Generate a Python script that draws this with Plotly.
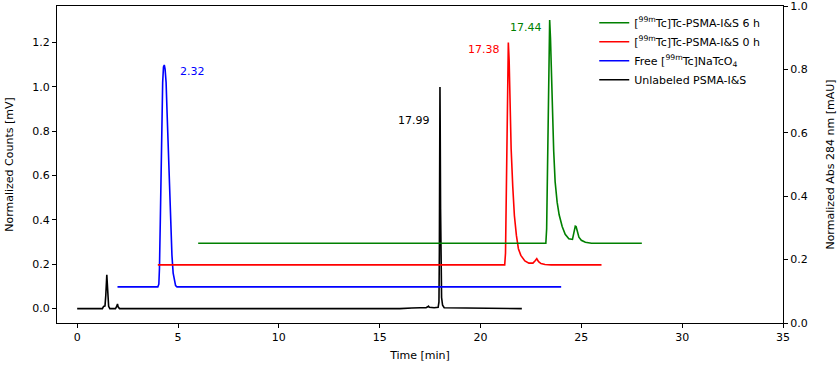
import plotly.graph_objects as go

# ---- data (time in min, normalized counts, offset traces) ----
black_t = [0.0, 1.25, 1.31, 1.38, 1.42, 1.45, 1.47, 1.49, 1.52, 1.56, 1.62, 1.9, 1.97, 2.0, 2.03, 2.1,
           16.0, 16.3, 16.6, 17.0, 17.3, 17.38, 17.42, 17.46, 17.7, 17.9, 17.94, 17.96, 17.98, 17.99,
           18.0, 18.02, 18.04, 18.07, 18.12, 18.2, 22.05]
black_y = [0.0, 0.0, 0.01, 0.012, 0.06, 0.13, 0.153, 0.12, 0.04, 0.01, 0.0, 0.0, 0.012, 0.021, 0.008, 0.0,
           0.0, 0.003, 0.003, 0.004, 0.004, 0.008, 0.011, 0.006, 0.004, 0.006, 0.03, 0.25, 0.8, 1.0,
           0.85, 0.45, 0.16, 0.05, 0.015, 0.004, 0.0]

blue_t = [2.0, 4.0, 4.05, 4.08, 4.12, 4.16, 4.2, 4.24, 4.28, 4.32, 4.36, 4.41, 4.46, 4.52, 4.58, 4.64,
          4.7, 4.76, 4.82, 4.88, 4.95, 24.0]
blue_y = [0.098, 0.098, 0.11, 0.18, 0.38, 0.62, 0.86, 1.02, 1.09, 1.099, 1.08, 1.02, 0.88, 0.7, 0.52, 0.36,
          0.24, 0.16, 0.12, 0.104, 0.098, 0.098]

red_t = [4.0, 21.2, 21.24, 21.28, 21.32, 21.35, 21.38, 21.42, 21.47, 21.52, 21.6, 21.68, 21.78, 21.88,
         22.0, 22.2, 22.4, 22.6, 22.7, 22.79, 22.88, 23.0, 23.2, 23.5, 26.0]
red_y = [0.197, 0.197, 0.25, 0.55, 0.9, 1.13, 1.2, 1.12, 0.92, 0.72, 0.55, 0.42, 0.33, 0.27,
         0.24, 0.215, 0.205, 0.205, 0.215, 0.225, 0.212, 0.203, 0.199, 0.197, 0.197]

green_t = [6.0, 23.24, 23.28, 23.32, 23.36, 23.4, 23.43, 23.47, 23.52, 23.57, 23.63, 23.7, 23.8, 23.9,
           24.05, 24.2, 24.38, 24.56, 24.64, 24.7, 24.74, 24.8, 24.88, 25.0, 25.2, 25.5, 28.0]
green_y = [0.295, 0.295, 0.36, 0.65, 0.98, 1.22, 1.302, 1.22, 1.05, 0.874, 0.71, 0.573, 0.48, 0.423,
           0.37, 0.335, 0.315, 0.312, 0.34, 0.372, 0.37, 0.345, 0.322, 0.308, 0.299, 0.295, 0.295]

names = ["Unlabeled PSMA-I&amp;S",
         "Free [<sup>99m</sup>Tc]NaTcO<sub>4</sub>",
         "[<sup>99m</sup>Tc]Tc-PSMA-I&amp;S 0 h",
         "[<sup>99m</sup>Tc]Tc-PSMA-I&amp;S 6 h"]
colors = ["#000000", "#0000ff", "#ff0000", "#008000"]

peak_labels = ["17.99", "2.32", "17.38", "17.44"]
label_x = [17.6, 5.02, 21.06, 23.15]
label_y = [0.847, 1.069, 1.169, 1.27]
label_anchor = ["right", "left", "right", "right"]

x_ticks = [0, 5, 10, 15, 20, 25, 30, 35]
y_ticks = [0.0, 0.2, 0.4, 0.6, 0.8, 1.0, 1.2]
y2_ticks = [0.0, 0.2, 0.4, 0.6, 0.8, 1.0]

FONT = "DejaVu Sans"

fig = go.Figure()
series = [(black_t, black_y), (blue_t, blue_y), (red_t, red_y), (green_t, green_y)]
for (t, y), n, c in zip(series, names, colors):
    fig.add_trace(go.Scatter(x=t, y=y, mode="lines", name=n,
                             line=dict(color=c, width=1.6)))

# invisible trace on the secondary axis so it is drawn
fig.add_trace(go.Scatter(x=[0], y=[0], yaxis="y2", mode="markers",
                         marker=dict(opacity=0), showlegend=False, hoverinfo="skip"))

for txt, x, y, a, c in zip(peak_labels, label_x, label_y, label_anchor, colors):
    fig.add_annotation(x=x, y=y, text=txt, showarrow=False, xanchor=a, yanchor="middle",
                       font=dict(color=c, size=11, family=FONT))

axis_common = dict(showline=True, linecolor="black", linewidth=1, ticks="outside",
                   ticklen=4, tickwidth=1, tickcolor="black", showgrid=False, zeroline=False,
                   automargin=False, ticklabeloverflow="allow",
                   tickfont=dict(size=11, family=FONT, color="black"))

fig.update_layout(
    width=837, height=373,
    margin=dict(l=57, r=54, t=6, b=50),
    paper_bgcolor="white", plot_bgcolor="white",
    font=dict(family=FONT, size=11, color="black"),
    xaxis=dict(range=[-1, 35], tickvals=x_ticks, mirror=True,
               title=dict(text="Time [min]", font=dict(size=11, family=FONT), standoff=8),
               **axis_common),
    yaxis=dict(range=[-0.065, 1.365], tickvals=y_ticks, tickformat=".1f", mirror=True,
               title=dict(text="Normalized Counts [mV]", font=dict(size=11, family=FONT), standoff=16),
               **axis_common),
    yaxis2=dict(range=[0, 1], tickvals=y2_ticks, tickformat=".1f", overlaying="y", side="right",
                title=dict(text="Normalized Abs 284 nm [mAU]", font=dict(size=11, family=FONT), standoff=20),
                **axis_common),
    legend=dict(x=0.74, y=0.993, xanchor="left", yanchor="top", traceorder="reversed",
                bgcolor="rgba(255,255,255,0)", borderwidth=0, itemwidth=30,
                font=dict(size=11, family=FONT), tracegroupgap=0),
    showlegend=True,
)

# remove the browser's default 8px body margin so the figure fills the window exactly
fig.write_html("out.html", config={"displayModeBar": False},
               post_script="document.body.style.margin='0';")
